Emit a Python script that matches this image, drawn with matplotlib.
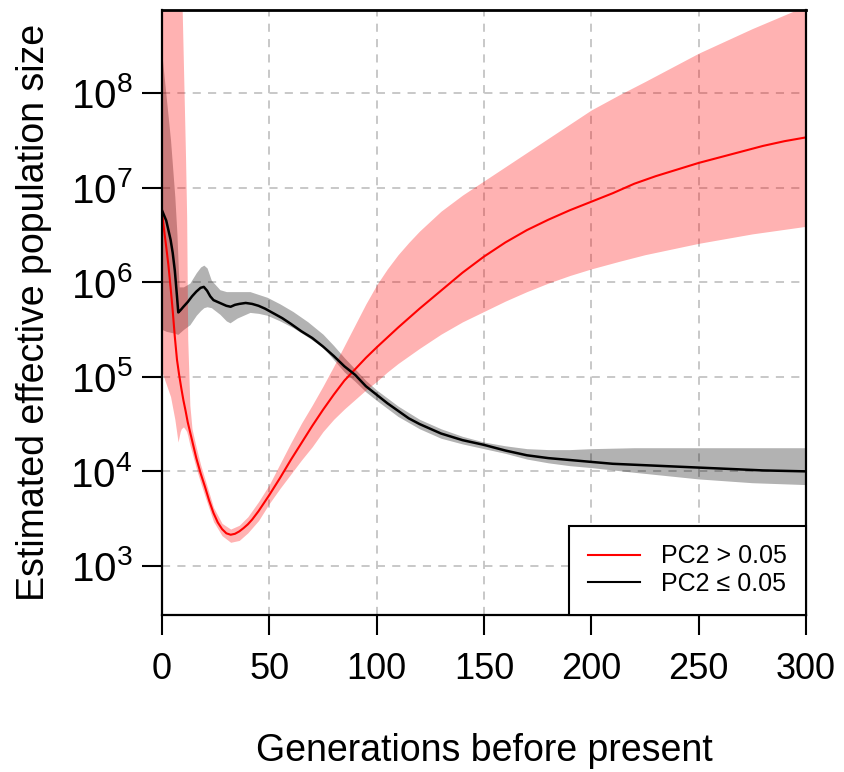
import numpy as np
import matplotlib
matplotlib.use("Agg")
import matplotlib.pyplot as plt
from matplotlib.lines import Line2D
from matplotlib.ticker import FixedLocator, NullLocator, LogFormatterSciNotation

plt.rcParams['font.family'] = ['Liberation Sans', 'DejaVu Sans']

# ---------------- data (log10 of effective population size) ----------------
# PC2 > 0.05 : median
red_gen = [0, 1, 2, 3, 4, 5, 6, 7, 8, 9, 10, 11, 12, 14, 16, 18, 20, 22, 24, 26, 28, 30, 32,
           34, 36, 38, 40, 42, 45, 50, 55, 60, 65, 70, 75, 80, 85, 90, 95, 100, 110, 120,
           130, 140, 150, 160, 170, 180, 190, 200, 210, 220, 230, 240, 250, 260, 270, 280,
           290, 300]
red_med = [6.74, 6.55, 6.37, 6.18, 5.95, 5.70, 5.42, 5.18, 5.02, 4.88, 4.75, 4.64, 4.52,
           4.33, 4.14, 3.98, 3.84, 3.69, 3.56, 3.46, 3.39, 3.345, 3.33, 3.34, 3.365, 3.40,
           3.44, 3.49, 3.58, 3.75, 3.93, 4.12, 4.30, 4.48, 4.65, 4.81, 4.96, 5.08, 5.20,
           5.31, 5.52, 5.72, 5.91, 6.10, 6.27, 6.42, 6.55, 6.66, 6.76, 6.85, 6.94, 7.04,
           7.12, 7.19, 7.26, 7.32, 7.38, 7.44, 7.49, 7.53]

# PC2 > 0.05 : confidence band
red_band_gen = [0, 2, 4, 6, 7.5, 8.5, 9, 10, 11, 11.5, 12, 13, 14, 16, 18, 20, 24, 28, 32,
                36, 40, 45, 50, 55, 60, 65, 70, 75, 80, 85, 90, 95, 100, 105, 110, 115, 120,
                130, 140, 150, 160, 170, 180, 190, 200, 213, 225, 250, 275, 300]
red_upper = [9.5, 9.5, 9.5, 9.5, 9.5, 9.5, 9.3, 8.3, 7.3, 6.7, 5.4, 4.7, 4.45, 4.25, 4.07,
             3.92, 3.62, 3.45, 3.39, 3.43, 3.52, 3.68, 3.86, 4.08, 4.30, 4.51, 4.70, 4.90,
             5.11, 5.33, 5.55, 5.77, 5.97, 6.14, 6.29, 6.42, 6.54, 6.75, 6.92, 7.07, 7.22,
             7.37, 7.52, 7.67, 7.82, 7.98, 8.12, 8.42, 8.68, 8.92]
red_lower = [5.05, 4.92, 4.79, 4.55, 4.31, 4.42, 4.45, 4.47, 4.44, 4.42, 4.38, 4.28, 4.20,
             4.03, 3.88, 3.74, 3.47, 3.32, 3.25, 3.27, 3.35, 3.48, 3.66, 3.82, 3.97, 4.12,
             4.26, 4.42, 4.55, 4.66, 4.76, 4.86, 4.95, 5.05, 5.14, 5.22, 5.30, 5.45, 5.58,
             5.69, 5.80, 5.90, 5.99, 6.07, 6.14, 6.22, 6.29, 6.41, 6.51, 6.59]

# PC2 <= 0.05 : median
blk_gen = [0, 2, 4, 5, 6, 7, 7.6, 8.5, 10, 12, 14, 16, 18, 19.5, 21, 22.5, 24, 26, 28, 30,
           32, 34, 36, 39, 42, 45, 48, 52, 56, 60, 65, 70, 75, 80, 85, 90, 95, 100, 105,
           110, 115, 120, 125, 130, 140, 150, 160, 170, 180, 190, 200, 210, 220, 230, 240,
           250, 260, 270, 280, 290, 300]
blk_med = [6.76, 6.65, 6.45, 6.31, 6.12, 5.85, 5.68, 5.70, 5.74, 5.79, 5.85, 5.90, 5.94,
           5.95, 5.91, 5.85, 5.81, 5.79, 5.77, 5.75, 5.74, 5.76, 5.77, 5.78, 5.77, 5.75,
           5.72, 5.67, 5.62, 5.56, 5.48, 5.41, 5.32, 5.22, 5.11, 5.02, 4.90, 4.81, 4.72,
           4.64, 4.56, 4.50, 4.45, 4.40, 4.33, 4.28, 4.22, 4.17, 4.14, 4.12, 4.10, 4.08,
           4.07, 4.06, 4.05, 4.04, 4.03, 4.02, 4.01, 4.005, 4.00]

# PC2 <= 0.05 : confidence band
blk_band_gen = [0, 2, 4, 6, 7, 7.6, 8, 10, 13, 16, 18, 19.5, 21, 23, 27, 30, 31.7, 35, 41,
                45, 49, 55, 61, 68, 75, 80, 85, 90, 95, 100, 110, 120, 130, 140, 150, 160,
                170, 180, 190, 200, 220, 250, 275, 300]
blk_upper = [8.40, 7.95, 7.50, 6.90, 6.50, 6.15, 5.95, 5.95, 5.99, 6.10, 6.16, 6.18, 6.15,
             6.02, 5.92, 5.90, 5.90, 5.90, 5.90, 5.87, 5.84, 5.77, 5.69, 5.58, 5.45, 5.33,
             5.20, 5.08, 4.96, 4.86, 4.69, 4.55, 4.45, 4.37, 4.31, 4.27, 4.24, 4.23, 4.23,
             4.24, 4.25, 4.25, 4.25, 4.25]
blk_lower = [5.50, 5.48, 5.47, 5.46, 5.45, 5.45, 5.46, 5.50, 5.55, 5.65, 5.70, 5.73, 5.74,
             5.73, 5.66, 5.59, 5.57, 5.62, 5.68, 5.67, 5.65, 5.59, 5.52, 5.42, 5.31, 5.18,
             5.05, 4.95, 4.84, 4.75, 4.58, 4.45, 4.35, 4.29, 4.24, 4.19, 4.13, 4.09, 4.06,
             4.04, 3.99, 3.92, 3.88, 3.86]

labels = ["PC2 > 0.05", "PC2 \u2264 0.05"]
x_ticks = [0, 50, 100, 150, 200, 250, 300]
y_ticks = [1e3, 1e4, 1e5, 1e6, 1e7, 1e8]


def tp(v):
    return np.power(10.0, np.asarray(v, dtype=float))


# ---------------- figure ----------------
fig = plt.figure(figsize=(8.44, 7.72), dpi=100)
ax = fig.add_axes([0.1919, 0.2034, 0.7630, 0.7837])

ax.fill_between(blk_band_gen, tp(blk_lower), tp(blk_upper), color='black', alpha=0.30,
                linewidth=0, zorder=2)
ax.fill_between(red_band_gen, tp(red_lower), tp(red_upper), color='red', alpha=0.30,
                linewidth=0, zorder=2)
ax.plot(red_gen, tp(red_med), color='red', lw=1.5, zorder=4)
ax.plot(blk_gen, tp(blk_med), color='black', lw=1.8, zorder=4)

ax.set_yscale('log')
ax.set_xlim(0, 300)
ax.set_ylim(10 ** 2.482, 10 ** 8.877)

ax.xaxis.set_major_locator(FixedLocator(x_ticks))
ax.yaxis.set_major_locator(FixedLocator(y_ticks))
ax.yaxis.set_minor_locator(NullLocator())
ax.yaxis.set_major_formatter(LogFormatterSciNotation())

ax.grid(True, which='major', color='#c4c4c4', linestyle=(0, (4.5, 4.0)), linewidth=1.3,
        zorder=0)
ax.set_axisbelow(True)

for s in ax.spines.values():
    s.set_linewidth(1.6)
    s.set_zorder(5)
ax.spines['top'].set_linewidth(2.0)

ax.tick_params(axis='both', direction='out', length=14.4, width=1.5, colors='black')
ax.tick_params(axis='x', pad=12, labelsize=26)
ax.tick_params(axis='y', pad=7, labelsize=29)

ax.set_xlabel("Generations before present", fontsize=27)
ax.set_ylabel("Estimated effective population size", fontsize=27)
ax.xaxis.set_label_coords(0.5, -0.195)
ax.yaxis.set_label_coords(-0.170, 0.50)

handles = [Line2D([], [], color='red', lw=1.5), Line2D([], [], color='black', lw=1.5)]
leg = ax.legend(handles, labels, loc='lower right', bbox_to_anchor=(1.0, 0.0),
                borderaxespad=0.0, frameon=True, fancybox=False, framealpha=1.0,
                edgecolor='black', fontsize=18, handlelength=2.1, handletextpad=0.85,
                borderpad=0.75, labelspacing=0.15)
leg.get_frame().set_linewidth(1.5)
leg.set_zorder(6)

fig.savefig("out.png", dpi=100)
